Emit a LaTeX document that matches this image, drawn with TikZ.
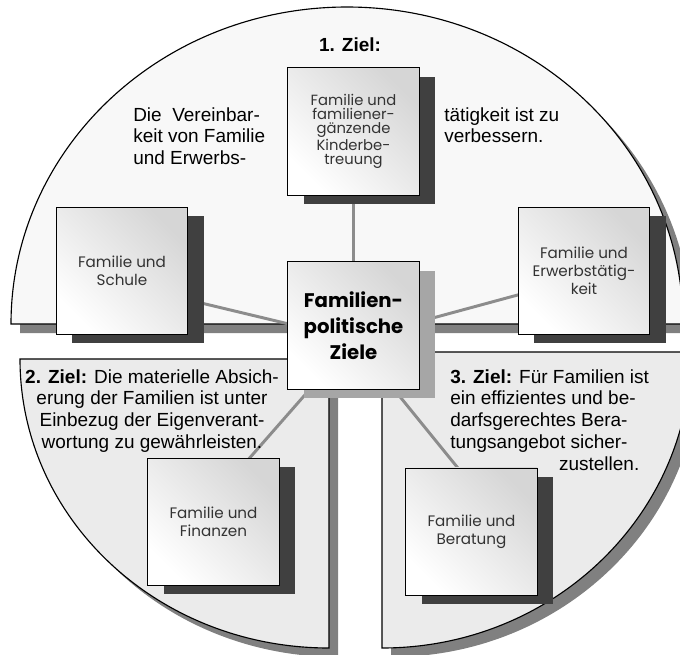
\documentclass[tikz,border=0pt]{standalone}
\usepackage{fontspec}
\setmainfont{Liberation Sans}
\newfontfamily\boxfont{Poppins}
\usepackage{tikz}
\usetikzlibrary{shadows}
\pgfdeclarelayer{flaechen}
\pgfdeclarelayer{linien}
\pgfsetlayers{flaechen,linien,main}
\definecolor{obenfl}{HTML}{F8F8F8}
\definecolor{untenfl}{HTML}{EBEBEB}
\definecolor{schatten}{HTML}{808080}
\definecolor{boxschatten}{HTML}{404040}
\definecolor{mitteschatten}{HTML}{A6A6A6}
\definecolor{linie}{HTML}{8C8C8C}
\definecolor{boxtext}{HTML}{333333}

\begin{document}
\begin{tikzpicture}[x=0.025cm,y=-0.025cm,
 tortenstueck/.style={draw=black,line width=0.8pt,preaction={fill=schatten,transform canvas={shift={(9,9)}}}},
 feld/.style={draw=black,line width=0.7pt,minimum width=3.275cm,minimum height=3.175cm,inner sep=0pt,outer sep=0pt,
  align=center,top color=black!16,bottom color=white,shading angle=-45,
  drop shadow={shadow xshift=0.4cm,shadow yshift=-0.22cm,fill=#1,opacity=1},
  font=\boxfont\fontsize{10.8}{13}\selectfont,text=boxtext},
 feld/.default=boxschatten,
 ziel/.style={font=\fontsize{13.5}{15.6}\selectfont,inner sep=0pt},
 verbindung/.style={draw=linie,line width=2.1pt}]
 \useasboundingbox (0,0) rectangle (680,654);
 \begin{pgfonlayer}{flaechen}
 \draw[tortenstueck,fill=obenfl](11,324) .. controls (11,149) and (161,7) .. (347,7) .. controls (533,7) and (683,149) .. (683,324) -- cycle;
 \draw[tortenstueck,fill=untenfl](329,359)--(20,359) .. controls (20,519) and (158,648) .. (329,648) -- cycle;
 \draw[tortenstueck,fill=untenfl](382,352)--(691,352) .. controls (691,515) and (553,648) .. (382,648) -- cycle;
 \end{pgfonlayer}

 \node[feld,font=\boxfont\fontsize{10.5}{10.2}\selectfont] (kinder) at (353.5,131.5) {Familie und\\familiener-\\gänzende\\Kinderbe-\\treuung};
 \node[feld] (schule) at (122,271) {Familie und\\Schule};
 \node[feld] (erwerb) at (584,271) {Familie und\\Erwerbstätig-\\keit};
 \node[feld=mitteschatten,font=\boxfont\bfseries\fontsize{14}{18.4}\selectfont,text=black] (mitte) at (353.5,325.5) {Familien-\\politische\\Ziele};
 \node[feld] (finanzen) at (213.5,522) {Familie und\\Finanzen};
 \node[feld] (beratung) at (471.5,531.5) {Familie und\\Beratung};

 \coordinate (nabe) at ([yshift=-0.35cm]mitte.center);
 \begin{pgfonlayer}{linien}
 \draw[verbindung] (nabe) -- (kinder.center);
 \draw[verbindung] (nabe) -- ([yshift=-0.325cm]schule.center);
 \draw[verbindung] (nabe) -- ([yshift=-0.15cm]erwerb.center);
 \draw[verbindung] (nabe) -- ([xshift=-0.5cm]finanzen.center);
 \draw[verbindung] (nabe) -- ([xshift=0.95cm]beratung.center);
 \end{pgfonlayer}

 \node[ziel] (ziel1) at (350,45) {\bfseries 1. Ziel:};
 \node[ziel,anchor=north west,align=left] (ziel1a) at (133,107) {Die~~Vereinbar-\\keit von Familie\\und Erwerbs-};
 \node[ziel,anchor=north west,align=left] (ziel1b) at (444,107) {tätigkeit ist zu\\verbessern.};
 \node[ziel,anchor=north,align=center] (ziel2) at (152,369) {\textbf{2. Ziel:} Die materielle Absich-\\erung der Familien ist unter\\Einbezug der Eigenverant-\\wortung zu gewährleisten.};
 \node[ziel,anchor=north west,align=left] (ziel3) at (450,369) {\textbf{3. Ziel:} Für Familien ist\\ein effizientes und be-\\darfsgerechtes Bera-\\tungsangebot sicher-\\\hspace*{2.72cm}zustellen.};
\end{tikzpicture}
\end{document}
